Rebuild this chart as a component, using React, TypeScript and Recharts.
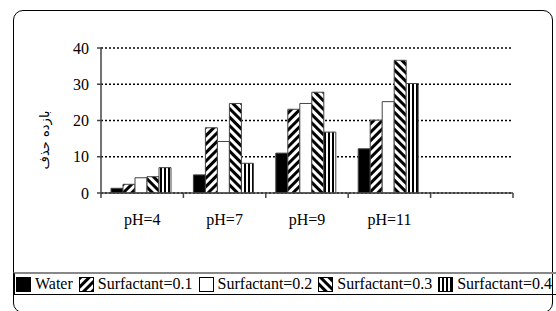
import { BarChart, Bar, XAxis, YAxis, CartesianGrid } from 'recharts'

const categories = ['pH=4', 'pH=7', 'pH=9', 'pH=11', '']
const water = [1.3, 5, 11, 12.2, null]
const surf01 = [2.4, 18, 23.1, 20.1, null]
const surf02 = [4.2, 14.2, 24.7, 25.2, null]
const surf03 = [4.5, 24.7, 27.8, 36.6, null]
const surf04 = [7, 8.2, 16.8, 30.2, null]
const yTicks = [0, 10, 20, 30, 40]
const yLabel = 'بازده حذف'

const SERIES = [
  { key: 'water', name: 'Water', fill: '#000' },
  { key: 's01', name: 'Surfactant=0.1', fill: 'url(#fwd)' },
  { key: 's02', name: 'Surfactant=0.2', fill: '#fff' },
  { key: 's03', name: 'Surfactant=0.3', fill: 'url(#back)' },
  { key: 's04', name: 'Surfactant=0.4', fill: 'url(#vert)' },
]

const data = categories.map((c, i) => ({
  cat: c,
  water: water[i],
  s01: surf01[i],
  s02: surf02[i],
  s03: surf03[i],
  s04: surf04[i],
}))

const FONT = 'Liberation Serif, Tinos, Times New Roman, DejaVu Serif, serif'

const Patterns = ({ suffix = '' }: { suffix?: string }) => (
  <defs>
    <pattern id={`fwd${suffix}`} patternUnits="userSpaceOnUse" width="6" height="6" patternTransform="rotate(45)">
      <rect width="6" height="6" fill="#fff" />
      <rect width="3" height="6" fill="#000" />
    </pattern>
    <pattern id={`back${suffix}`} patternUnits="userSpaceOnUse" width="6" height="6" patternTransform="rotate(-45)">
      <rect width="6" height="6" fill="#fff" />
      <rect width="3" height="6" fill="#000" />
    </pattern>
    <pattern id={`vert${suffix}`} patternUnits="userSpaceOnUse" width="4" height="4">
      <rect width="4" height="4" fill="#fff" />
      <rect width="2" height="4" fill="#000" />
    </pattern>
  </defs>
)

const CategoryTick = (props: any) => {
  const { x, y, payload, index } = props
  const half = payload?.offset ?? 0
  const last = index === categories.length - 1
  return (
    <g>
      <line x1={x - half} x2={x - half} y1={y} y2={y + 5} stroke="#444" strokeWidth={1.5} />
      {last && <line x1={x + half} x2={x + half} y1={y} y2={y + 5} stroke="#444" strokeWidth={1.5} />}
      <text x={x} y={y + 32} textAnchor="middle" fontSize={16} fontFamily={FONT} fill="#000">
        {payload.value}
      </text>
    </g>
  )
}

const Swatch = ({ fill, id }: { fill: string; id: string }) => (
  <svg width={15} height={15} style={{ display: 'block', flex: 'none' }}>
    <Patterns suffix={id} />
    <rect x={0.5} y={0.5} width={14} height={14} fill={fill.replace(')', `${id})`)} stroke="#000" />
  </svg>
)

export default function App() {
  return (
    <div style={{ position: 'fixed', left: 0, top: 0, width: 556, height: 311, background: '#fff', overflow: 'hidden' }}>
      <div
        style={{
          position: 'absolute',
          left: 13,
          top: 10,
          width: 540,
          height: 303,
          border: '1.5px solid #000',
          borderRadius: 10,
          boxSizing: 'border-box',
        }}
      />
      <div style={{ position: 'absolute', left: 0, top: 0 }}>
        <BarChart
          width={556}
          height={272}
          data={data}
          margin={{ top: 48, right: 43, left: 1, bottom: 39 }}
          barCategoryGap={10}
          barGap={0}
        >
          <Patterns />
          <CartesianGrid vertical={false} stroke="#000" strokeWidth={1.5} strokeDasharray="2 2" />
          <XAxis
            dataKey="cat"
            height={40}
            interval={0}
            tickLine={false}
            tickSize={0}
            tickMargin={0}
            tick={<CategoryTick />}
            axisLine={{ stroke: '#444', strokeWidth: 1.5 }}
          />
          <YAxis
            width={100}
            domain={[0, 40]}
            ticks={yTicks}
            interval={0}
            tickSize={4}
            tickMargin={8}
            tickLine={{ stroke: '#444', strokeWidth: 1.5 }}
            axisLine={{ stroke: '#444', strokeWidth: 1.5 }}
            tick={{ fontSize: 16, fontFamily: FONT, fill: '#000' }}
          />
          <YAxis
            yAxisId="right"
            orientation="right"
            width={0}
            tick={false}
            tickLine={false}
            axisLine={{ stroke: '#aaa', strokeWidth: 1.5 }}
          />
          {SERIES.map((s) => (
            <Bar
              key={s.key}
              dataKey={s.key}
              name={s.name}
              fill={s.fill}
              stroke="#444"
              strokeWidth={1}
              isAnimationActive={false}
            />
          ))}
        </BarChart>
      </div>
      {/* y axis title, rotated */}
      <div
        style={{
          position: 'absolute',
          left: 45,
          top: 140,
          transform: 'translate(-50%, -50%) rotate(-90deg)',
          fontFamily: '"DejaVu Sans", sans-serif',
          fontSize: 13,
          lineHeight: '16px',
          whiteSpace: 'nowrap',
          color: '#000',
        }}
        dir="rtl"
      >
        {yLabel}
      </div>
      <div
        style={{
          position: 'absolute',
          left: 13,
          top: 272,
          width: 560,
          height: 23,
          boxSizing: 'border-box',
          borderTop: '2px solid #888',
          borderBottom: '1.5px solid #000',
          borderLeft: '2px solid #000',
          display: 'flex',
          alignItems: 'center',
          paddingLeft: 1,
          fontFamily: FONT,
          fontSize: 16,
          color: '#000',
          whiteSpace: 'nowrap',
        }}
      >
        {SERIES.map((s, i) => (
          <div key={s.key} style={{ display: 'flex', alignItems: 'center', marginRight: 6 }}>
            <Swatch fill={s.fill} id={`l${i}`} />
            <span style={{ marginLeft: 4, lineHeight: '18px' }}>{s.name}</span>
          </div>
        ))}
      </div>
    </div>
  )
}
